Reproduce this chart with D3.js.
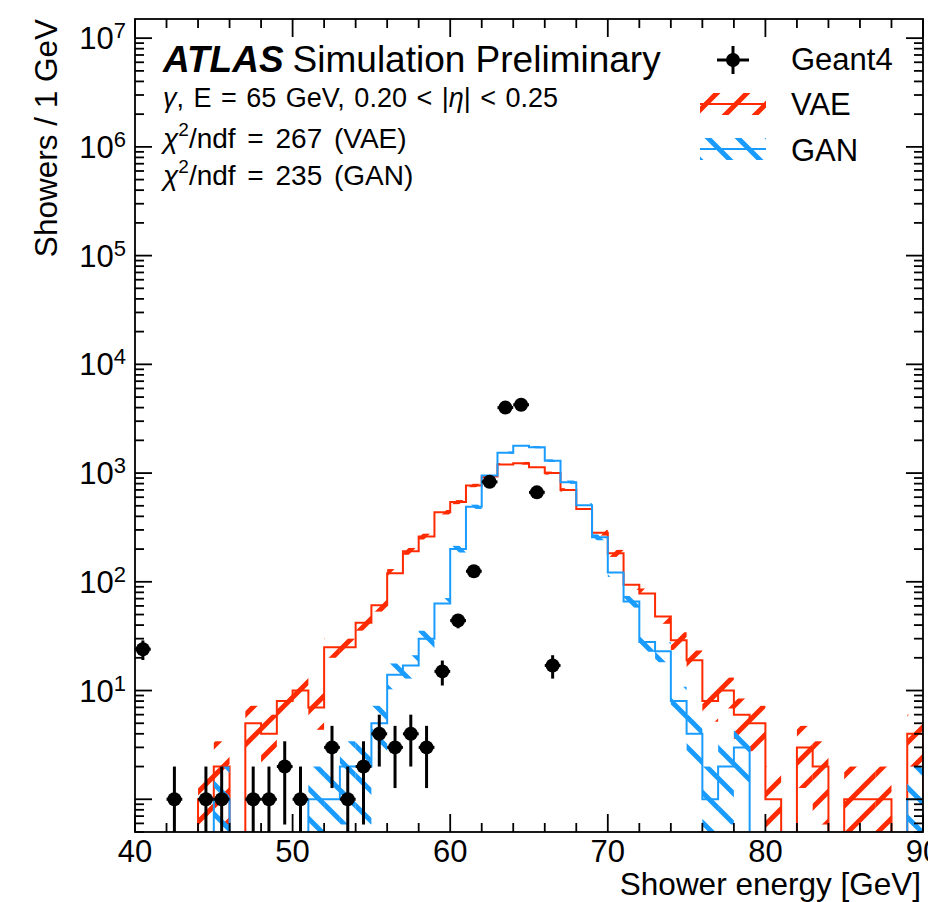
<!DOCTYPE html>
<html>
<head>
<meta charset="utf-8">
<script src="https://cdn.jsdelivr.net/npm/d3@7/dist/d3.min.js"></script>
<style>
  body { margin: 0; background: #fff; }
  svg { display: block; font-family: "Liberation Sans", Arial, sans-serif; }
</style>
</head>
<body>
<svg id="chart" width="928" height="902"></svg>
<script>
// bin low edges in GeV (1 GeV bins)
const binLow = [40, 41, 42, 43, 44, 45, 46, 47, 48, 49,
    50, 51, 52, 53, 54, 55, 56, 57, 58, 59,
    60, 61, 62, 63, 64, 65, 66, 67, 68, 69,
    70, 71, 72, 73, 74, 75, 76, 77, 78, 79,
    80, 81, 82, 83, 84, 85, 86, 87, 88, 89];

const vaeCounts = [0, 0, 0, 0, 1, 2, 0, 5, 4, 8,
    10, 7, 25, 25, 42, 61, 120, 191, 261, 437,
    541, 769, 930, 1200, 1230, 1130, 1000, 700, 468, 283,
    183, 94, 78, 48, 29, 19, 8, 10, 6, 5,
    1, 0, 3, 2, 0, 1, 1, 1, 0, 4];

const ganCounts = [0, 0, 0, 0, 0, 1, 0, 0, 0, 0,
    0, 1, 1, 2, 2, 5, 14, 17, 30, 63,
    200, 490, 950, 1540, 1780, 1730, 1300, 825, 505, 257,
    122, 66, 28, 23, 8, 4, 1, 2, 3, 0,
    0, 0, 0, 0, 0, 0, 0, 0, 0, 1];

const geantEnergy = [40.5, 42.5, 44.5, 45.5, 47.5, 48.5, 49.5, 50.5, 52.5, 53.5, 54.5, 55.5,
    56.5, 57.5, 58.5, 59.5, 60.5, 61.5, 62.5, 63.5, 64.5, 65.5, 66.5];
const geantCounts = [24, 1, 1, 1, 1, 1, 2, 1, 3, 1, 2, 4,
    3, 4, 3, 15, 44, 125, 830, 4000, 4250, 665, 17];

const xMajorTicks = [40, 50, 60, 70, 80, 90];
const yDecades = [1, 10, 100, 1000, 10000, 100000, 1000000, 10000000];
const yLabelExp = ["", "1", "2", "3", "4", "5", "6", "7"]; // 10^0 has no label in the original

const RED = "#ff2a00";
const BLUE = "#1a9cff";

const plot = { left: 135, right: 923, top: 19, bottom: 832 };

const x = d3.scaleLinear().domain([40, 90]).range([plot.left, plot.right]);
const y = d3.scaleLog().domain([0.5, 1.5e7]).range([plot.bottom, plot.top]);
const yc = v => y(Math.max(v, 0.05)); // zero bins drop below the frame (clipped)

const svg = d3.select("#chart");
const defs = svg.append("defs");

defs.append("clipPath").attr("id", "plotClip")
    .append("rect")
    .attr("x", plot.left).attr("y", plot.top)
    .attr("width", plot.right - plot.left).attr("height", plot.bottom - plot.top);

// hatch patterns, matplotlib style "/" and "\"
const H = 30;
function hatch(id, color, forward) {
    const p = defs.append("pattern").attr("id", id)
        .attr("patternUnits", "userSpaceOnUse")
        .attr("width", H).attr("height", H);
    const d = forward
        ? `M${-H / 2},${H / 2}L${H / 2},${-H / 2}M0,${H}L${H},0M${H / 2},${H * 1.5}L${H * 1.5},${H / 2}`
        : `M${-H / 2},${H / 2}L${H / 2},${H * 1.5}M0,0L${H},${H}M${H / 2},${-H / 2}L${H * 1.5},${H / 2}`;
    p.append("path").attr("d", d).attr("stroke", color).attr("stroke-width", 5).attr("fill", "none");
}
hatch("hatchVAE", RED, true);
hatch("hatchGAN", BLUE, false);

const g = svg.append("g").attr("clip-path", "url(#plotClip)");

function drawHist(counts, color, patternId) {
    const bins = binLow.map((e, i) => ({ lo: e, hi: e + 1, v: counts[i] }));

    // statistical uncertainty band
    g.append("g").selectAll("rect")
        .data(bins.filter(b => b.v > 0))
        .join("rect")
        .attr("x", b => x(b.lo))
        .attr("width", b => x(b.hi) - x(b.lo))
        .attr("y", b => y(b.v + Math.sqrt(b.v)))
        .attr("height", b => yc(b.v - Math.sqrt(b.v)) - y(b.v + Math.sqrt(b.v)))
        .attr("fill", `url(#${patternId})`);

    // step outline
    const pts = [[bins[0].lo, 0]];
    bins.forEach(b => { pts.push([b.lo, b.v]); pts.push([b.hi, b.v]); });
    pts.push([bins[bins.length - 1].hi, 0]);
    const line = d3.line().x(d => x(d[0])).y(d => yc(d[1]));
    g.append("path").attr("d", line(pts))
        .attr("fill", "none").attr("stroke", color).attr("stroke-width", 2);
}

drawHist(vaeCounts, RED, "hatchVAE");
drawHist(ganCounts, BLUE, "hatchGAN");

// Geant4 points with sqrt(N) errors
const geant = geantEnergy.map((e, i) => ({ e: e, n: geantCounts[i] }));
const pg = g.append("g");
pg.selectAll("line.ey").data(geant).join("line").attr("class", "ey")
    .attr("x1", d => x(d.e)).attr("x2", d => x(d.e))
    .attr("y1", d => yc(d.n - Math.sqrt(d.n))).attr("y2", d => y(d.n + Math.sqrt(d.n)))
    .attr("stroke", "#000").attr("stroke-width", 3);
pg.selectAll("line.ex").data(geant).join("line").attr("class", "ex")
    .attr("x1", d => x(d.e - 0.5)).attr("x2", d => x(d.e + 0.5))
    .attr("y1", d => y(d.n)).attr("y2", d => y(d.n))
    .attr("stroke", "#000").attr("stroke-width", 3);
pg.selectAll("circle").data(geant).join("circle")
    .attr("cx", d => x(d.e)).attr("cy", d => y(d.n)).attr("r", 7).attr("fill", "#000");

// frame and ticks (inward, on all four sides)
const axes = svg.append("g").attr("stroke", "#000").attr("stroke-width", 1.8);
axes.append("rect")
    .attr("x", plot.left).attr("y", plot.top)
    .attr("width", plot.right - plot.left).attr("height", plot.bottom - plot.top)
    .attr("fill", "none");

const xMinor = d3.range(40, 91, 2).filter(v => !xMajorTicks.includes(v));
xMajorTicks.forEach(v => {
    axes.append("line").attr("x1", x(v)).attr("x2", x(v)).attr("y1", plot.bottom).attr("y2", plot.bottom - 18);
    axes.append("line").attr("x1", x(v)).attr("x2", x(v)).attr("y1", plot.top).attr("y2", plot.top + 18);
});
xMinor.forEach(v => {
    axes.append("line").attr("x1", x(v)).attr("x2", x(v)).attr("y1", plot.bottom).attr("y2", plot.bottom - 9);
    axes.append("line").attr("x1", x(v)).attr("x2", x(v)).attr("y1", plot.top).attr("y2", plot.top + 9);
});

const yMinor = [];
[0.1, 1, 10, 100, 1000, 10000, 100000, 1000000, 10000000].forEach(dec => {
    for (let k = 2; k <= 9; k++) {
        const v = k * dec;
        if (v >= 0.5 && v <= 1.5e7) yMinor.push(v);
    }
});
yDecades.forEach(v => {
    axes.append("line").attr("x1", plot.left).attr("x2", plot.left + 17).attr("y1", y(v)).attr("y2", y(v));
    axes.append("line").attr("x1", plot.right).attr("x2", plot.right - 17).attr("y1", y(v)).attr("y2", y(v));
});
yMinor.forEach(v => {
    axes.append("line").attr("x1", plot.left).attr("x2", plot.left + 9).attr("y1", y(v)).attr("y2", y(v));
    axes.append("line").attr("x1", plot.right).attr("x2", plot.right - 9).attr("y1", y(v)).attr("y2", y(v));
});

// tick labels
svg.append("g").selectAll("text").data(xMajorTicks).join("text")
    .attr("x", d => x(d)).attr("y", 862)
    .attr("text-anchor", "middle").attr("font-size", 31)
    .text(d => d);

const yl = svg.append("g").selectAll("text")
    .data(yDecades.map((v, i) => ({ v: v, exp: yLabelExp[i] })).filter(d => d.exp !== ""))
    .join("text")
    .attr("x", 126).attr("y", d => y(d.v) + 11)
    .attr("text-anchor", "end").attr("font-size", 31);
yl.append("tspan").text("10");
yl.append("tspan").attr("font-size", 22).attr("dy", -11).text(d => d.exp);

// axis titles
svg.append("text")
    .attr("x", 921).attr("y", 895)
    .attr("text-anchor", "end").attr("font-size", 31.5)
    .text("Shower energy [GeV]");
svg.append("text")
    .attr("transform", "translate(57,19) rotate(-90)")
    .attr("text-anchor", "end").attr("font-size", 31.5)
    .text("Showers / 1 GeV");

// ATLAS label and info text
const atlas = svg.append("text").attr("x", 163).attr("y", 72).attr("font-size", 37);
atlas.append("tspan").attr("font-weight", "bold").attr("font-style", "italic").text("ATLAS");
atlas.append("tspan").attr("dx", 9).text("Simulation Preliminary");

const info = svg.append("text").attr("x", 163).attr("y", 107).attr("font-size", 27)
    .attr("word-spacing", 2);
info.append("tspan").attr("font-style", "italic").text("γ");
info.append("tspan").text(", E = 65 GeV, 0.20 < |");
info.append("tspan").attr("font-style", "italic").text("η");
info.append("tspan").text("| < 0.25");

const chiLines = [["267", "VAE", 148], ["235", "GAN", 185]];
chiLines.forEach(([val, name, by]) => {
    const t = svg.append("text").attr("x", 163).attr("y", by).attr("font-size", 28)
        .attr("word-spacing", 4);
    t.append("tspan").attr("font-style", "italic").text("χ");
    t.append("tspan").attr("font-size", 19).attr("dy", -12).text("2");
    t.append("tspan").attr("dy", 12).text(`/ndf = ${val} (${name})`);
});

// legend
const lg = svg.append("g");
lg.append("line").attr("x1", 717).attr("x2", 749).attr("y1", 60).attr("y2", 60).attr("stroke", "#000").attr("stroke-width", 3);
lg.append("line").attr("x1", 733).attr("x2", 733).attr("y1", 46).attr("y2", 74).attr("stroke", "#000").attr("stroke-width", 3);
lg.append("circle").attr("cx", 733).attr("cy", 60).attr("r", 7).attr("fill", "#000");

[["VAE", RED, "hatchVAE", 93], ["GAN", BLUE, "hatchGAN", 138]].forEach(([name, color, pid, top]) => {
    lg.append("rect").attr("x", 700).attr("y", top).attr("width", 66).attr("height", 22).attr("fill", `url(#${pid})`);
    lg.append("line").attr("x1", 700).attr("x2", 766).attr("y1", top + 11).attr("y2", top + 11)
        .attr("stroke", color).attr("stroke-width", 2);
});

const legendNames = ["Geant4", "VAE", "GAN"];
const legendBase = [70, 115, 161];
lg.selectAll("text").data(legendNames).join("text")
    .attr("x", 791).attr("y", (d, i) => legendBase[i])
    .attr("font-size", 31).text(d => d);
</script>
</body>
</html>
